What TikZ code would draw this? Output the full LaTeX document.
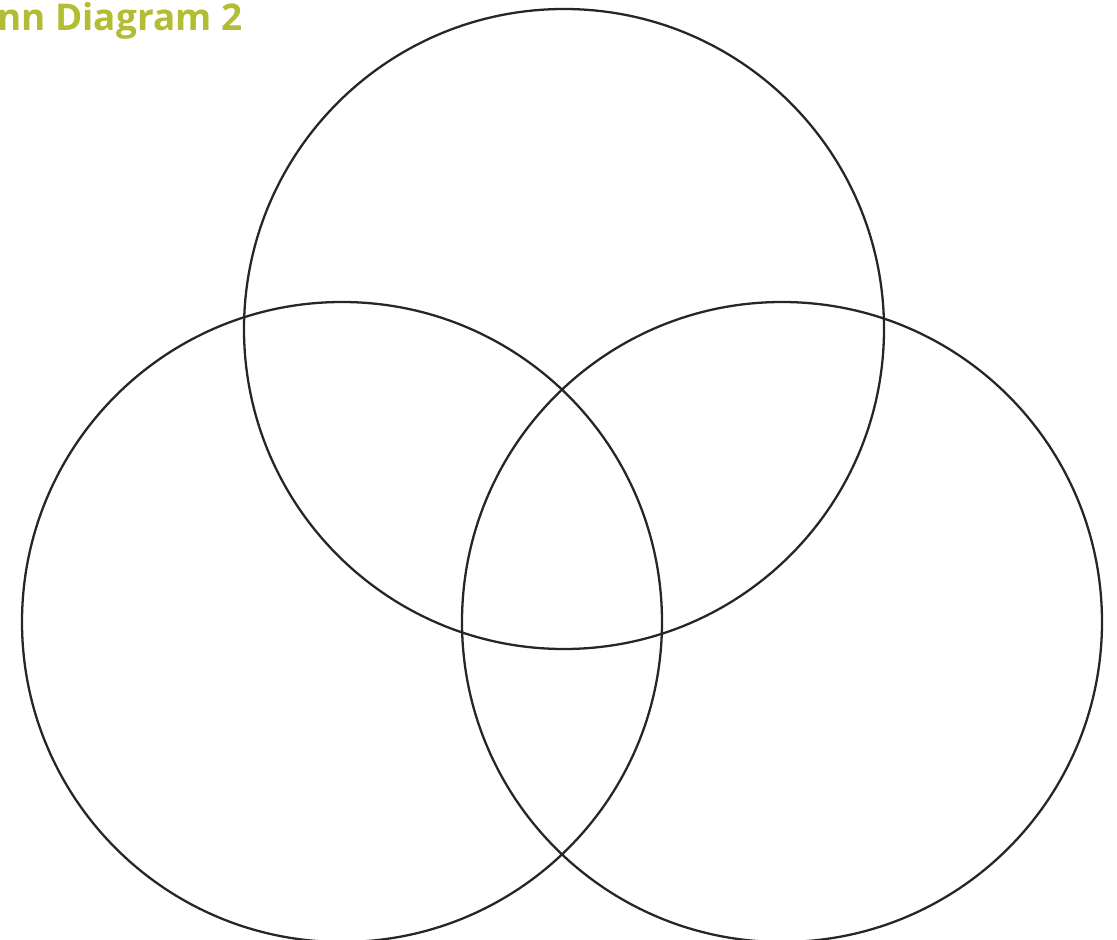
\documentclass[tikz,border=0pt]{standalone}
\usepackage{fontspec}
\setsansfont{Open Sans}
\definecolor{tituloverde}{RGB}{178,189,52}
\begin{document}
\begin{tikzpicture}[x=0.02cm, y=-0.02cm]
    % Marco de la imagen
    \useasboundingbox (0,0) rectangle (1117,940);

    % Centros de los tres conjuntos (r = 320)
    \coordinate (A) at (564, 329);
    \coordinate (B) at (342, 622);
    \coordinate (C) at (782, 622);

    % Conjuntos
    \draw[line width=1.3pt, black!85] (A) circle (320);
    \draw[line width=1.3pt, black!85] (B) circle (320);
    \draw[line width=1.3pt, black!85] (C) circle (320);

    % Titulo
    \node[anchor=base west, inner sep=0pt, text=tituloverde,
          font=\sffamily\bfseries\fontsize{21}{24}\selectfont] (titulo)
        at (-3, 30) {nn Diagram 2};
\end{tikzpicture}
\end{document}
